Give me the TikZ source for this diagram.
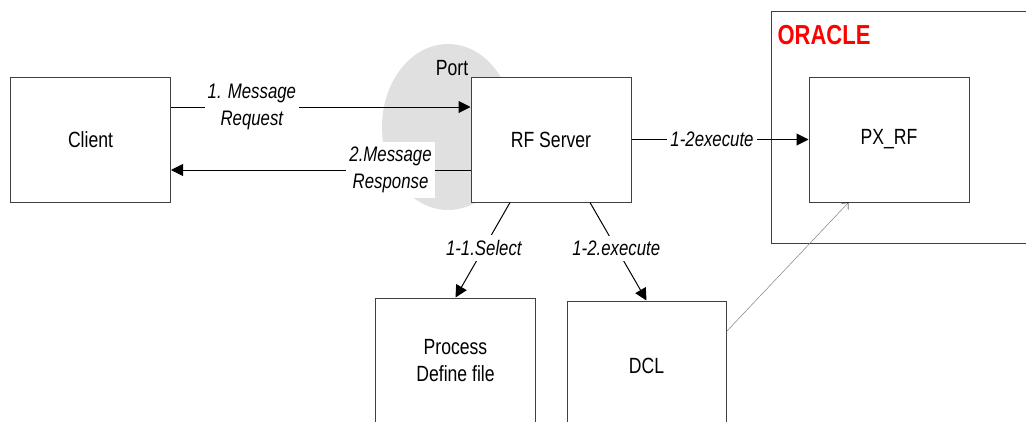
\documentclass[tikz,border=0pt]{standalone}
\usepackage{fontspec}
\setmainfont{Liberation Sans}[FakeStretch=0.8]
\usetikzlibrary{arrows.meta,calc}
\begin{document}
\begin{tikzpicture}[x=1pt,y=-1pt,
  box/.style={draw=black!75, line width=1pt, fill=white, minimum width=160pt,
    minimum height=125pt, inner sep=0pt, align=center,
    font=\fontsize{22}{27}\selectfont},
  flow/.style={draw=black, line width=1pt, -{Triangle[length=12pt,width=12pt]}},
  lbl/.style={fill=white, inner xsep=3pt, inner ysep=5pt, align=center,
    font=\fontsize{21}{27}\selectfont\itshape},
  link/.style={draw=black!50, line width=0.5pt,
    -{Straight Barb[length=5pt,width=9pt,black]}}]
\useasboundingbox (0,0) rectangle (1026,421);
\clip (0,0) rectangle (1026,421);

% listening port of the server
\fill[black!12] (448,127) ellipse [x radius=66pt, y radius=83pt];
\node[font=\fontsize{22}{24}\selectfont] (port) at (452,68) {Port};

% database frame
\draw[black!75, line width=1pt] (771,11) rectangle (1040,243);
\node[anchor=west, text=red, font=\fontsize{27.5}{30}\selectfont\bfseries] (oracle) at (774,35) {ORACLE};

% components
\node[box] (client) at (90.5,139.5) {Client};
\node[box] (rf) at (551,139.5) {RF Server};
\node[box] (px) at (889,139.5) {PX\_RF};
\node[box] (proc) at (455.5,360.5) {Process\\Define file};
\node[box, minimum width=159pt, minimum height=130pt] (dcl) at (646.5,366) {DCL};

% message exchange
\draw[flow] ($(client.east)+(0,-32.5)$) -- node[lbl, pos=0.27] {1. Message\\Request} ($(rf.west)+(0,-32.5)$);
\draw[flow] ($(rf.west)+(0,30.5)$) -- node[lbl, pos=0.267] {2.Message\\Response} ($(client.east)+(0,30.5)$);

% server actions
\draw[flow] (rf.east) -- node[lbl, pos=0.455] {1-2execute} (px.west);
\draw[flow] ($(rf.south)+(-41,0)$) -- node[lbl, pos=0.48] {1-1.Select} (proc.north);
\draw[flow] ($(rf.south)+(39,0)$) -- node[lbl, pos=0.465] {1-2.execute} (dcl.north);

% call from DCL into PX_RF
\coordinate (dclout) at ($(dcl.north east)+(0,31)$);
\coordinate (pxin) at ($(px.south west)+(40,0)$);
\draw[link] (dclout) -- (pxin);
\end{tikzpicture}
\end{document}
